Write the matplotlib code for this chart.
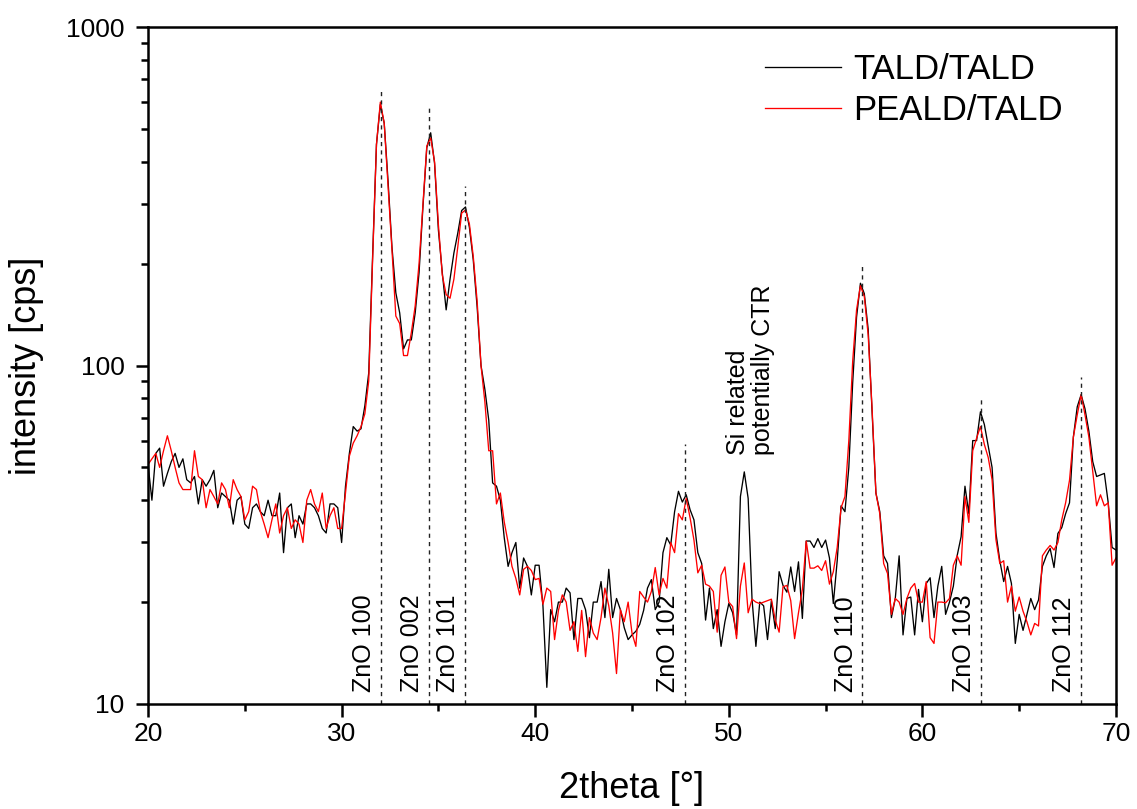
import numpy as np
import matplotlib
matplotlib.use("Agg")
import matplotlib.pyplot as plt
from matplotlib.ticker import LogLocator, FixedLocator, NullFormatter

plt.rcParams['font.family'] = ['Liberation Sans', 'DejaVu Sans']

# 2theta grid, 0.2 deg steps
two_theta = np.round(np.arange(20.0, 70.01, 0.2), 1)

tald = [
    51, 40, 55, 57, 44, 48, 52, 55, 50, 53,
    46, 45, 47, 39, 46, 44, 46, 49, 38, 42,
    41, 40, 34, 40, 41, 34, 33, 38, 39, 37,
    36, 40, 36, 36, 42, 28, 38, 39, 31, 36,
    34, 39, 39, 38, 36, 33, 32, 39, 39, 38,
    30,
    44, 55, 66, 64, 65, 76, 95, 210, 450, 590,
    520, 350, 224, 164, 143, 112, 119, 119, 143, 188,
    294, 440, 487, 396, 251, 188, 146, 180, 215, 246,
    287, 294, 256, 205, 149, 100, 85, 69, 45, 44,
    40, 31, 25.5, 28, 30, 22, 27, 25.5, 21, 25.7,
    25.7, 19.5, 11.2, 19, 17.5, 20, 20, 22, 21.3, 15.5,
    20.5, 20.5, 19, 15.7, 20, 20, 23, 18, 25, 18,
    20.5, 19, 16.8, 15.5, 16, 16.4, 17.2, 18.9, 22, 23.3,
    19, 20, 28, 31, 29.5, 37, 42.5, 39.5, 41.5, 37.5,
    35, 28, 26, 17.7, 22, 16.7, 19, 14.8, 17.5, 19.8,
    18.6, 16, 41, 48.5, 40.5, 20.4, 14.8, 20, 19.5, 15.5,
    20.2, 16.7, 24.6, 22.4, 21.4, 25.4, 21.5, 26.3, 17.9, 30.3,
    30.3, 29, 30.8, 29, 30.5, 27, 19.8, 26.5, 38.5, 37,
    50, 89, 139, 175, 163, 128, 73, 42, 37, 27.4,
    26, 18, 20.5, 27.4, 16, 20.5, 20.7, 16, 21.8, 17.5,
    22.7, 23.6, 18, 22.3, 25.5, 18.4, 20, 22.3, 27.5, 31.2,
    44, 36.5, 60, 60, 73, 67, 58, 50, 32, 26.5,
    23, 25.5, 22.7, 15.1, 18.4, 16.5, 18.4, 20.5, 19, 20.3,
    25.5, 27.4, 28.8, 25.3, 31.9, 33.2, 36.5, 39.3, 61.5, 75.5,
    82, 74.5, 64, 52, 47, 47.5, 48, 39.3, 29, 28.5,
]

peald = [
    51, 53, 55, 50, 56, 62, 56, 50, 45, 43,
    43, 43, 56, 47, 46, 38, 43, 41, 39, 45,
    43, 38, 46, 43, 41, 35, 37, 44, 43, 37,
    34, 31, 35, 39, 32, 36, 38, 33, 35, 34,
    30, 40, 43, 39, 37, 42, 33, 36, 38, 33,
    33,
    42, 54, 59, 62, 66, 72, 90, 205, 450, 600,
    520, 340, 220, 140, 133, 107, 107, 125, 150, 200,
    300, 445, 470, 400, 260, 185, 162, 158, 180, 224,
    282, 288, 262, 210, 155, 100, 78, 56, 56, 39,
    42, 34.5, 30, 25.5, 23.5, 21, 25, 25.5, 24.8, 23.3,
    23.5, 19.7, 22, 21.5, 15.5, 18.9, 21, 20, 16.5, 17.5,
    14.3, 18.9, 13.8, 18, 16.2, 15.5, 18, 22, 19.5, 16.2,
    12.3, 19, 17.5, 20, 16.2, 14.8, 21.5, 20.7, 20, 21.5,
    25.3, 21, 23.5, 22, 30, 28, 36.5, 35, 40.5, 35.5,
    30.5, 24.4, 25.7, 22.6, 22.3, 21.5, 16.3, 24, 25.4, 20,
    19.4, 15.6, 22.3, 26.1, 18.6, 20.4, 20, 19.8, 20, 20.2,
    20.4, 17.7, 16.3, 22.2, 22.4, 20.2, 15.6, 18.6, 21.8, 30.3,
    25.2, 25.2, 25.6, 24.8, 26.5, 22.6, 24.6, 29, 38, 41,
    60, 103, 146, 172, 160, 123, 75, 42, 36.5, 26,
    24.3, 18.4, 20.5, 20, 18.4, 20.5, 22, 22.7, 20, 20,
    23, 15.7, 15.1, 20, 20, 19.9, 20.5, 25.7, 27.4, 25.7,
    41, 34.4, 56, 61, 66, 58.5, 53.5, 46, 30.6, 26,
    26.5, 20, 22.3, 18.8, 20.7, 18.8, 17.5, 16, 17.3, 17,
    27.4, 28.5, 29.4, 28.5, 30, 35, 39.3, 45.8, 61.5, 71.5,
    82, 71.5, 61.5, 48.5, 38.5, 41.5, 38.5, 39.3, 25.7, 27,
]

# ZnO reflections (position, top of the marker line)
refl_labels = ['ZnO 100', 'ZnO 002', 'ZnO 101', 'ZnO 102', 'ZnO 110', 'ZnO 103', 'ZnO 112']
refl_pos = [32.05, 34.5, 36.35, 47.72, 56.9, 63.02, 68.2]
refl_top = [650, 575, 340, 58.5, 200, 79.5, 92.5]

fig = plt.figure(figsize=(11.37, 8.09), dpi=100)
ax = fig.add_axes([0.1302, 0.1298, 0.8513, 0.8368])

ax.plot(two_theta, tald, color='black', lw=0.95, label='TALD/TALD')
ax.plot(two_theta, peald, color='#ff0000', lw=0.95, label='PEALD/TALD')

ax.vlines(refl_pos, 10, refl_top, colors='#222222', linestyles=(0, (3, 3)), lw=1.0)
trans = ax.get_xaxis_transform()
for name, pos in zip(refl_labels, refl_pos):
    ax.text(pos - 0.25, 0.018, name, transform=trans, rotation=90,
            ha='right', va='bottom', fontsize=18)

ax.text(51.1, 54.5, 'Si related\npotentially CTR', rotation=90,
        ha='center', va='bottom', multialignment='left', fontsize=18,
        linespacing=1.05)

ax.set_yscale('log')
ax.set_xlim(20, 70)
ax.set_ylim(10, 1000)
ax.xaxis.set_major_locator(FixedLocator([20, 30, 40, 50, 60, 70]))
ax.xaxis.set_minor_locator(FixedLocator([25, 35, 45, 55, 65]))
ax.yaxis.set_major_locator(FixedLocator([10, 100, 1000]))
ax.yaxis.set_major_formatter(plt.FuncFormatter(lambda v, p: f'{int(v)}'))
ax.yaxis.set_minor_locator(LogLocator(base=10, subs=np.arange(2, 10)))
ax.yaxis.set_minor_formatter(NullFormatter())

for s in ax.spines.values():
    s.set_linewidth(1.8)
ax.tick_params(axis='both', which='major', direction='out', length=9, width=1.8)
ax.tick_params(axis='both', which='minor', direction='out', length=5, width=1.8)
ax.tick_params(axis='x', labelsize=19, pad=4)
ax.tick_params(axis='y', labelsize=19, pad=8)

ax.set_xlabel('2theta [°]', fontsize=26, labelpad=18)
ax.set_ylabel('intensity [cps]', fontsize=26, labelpad=16)

ax.legend(loc='upper left', bbox_to_anchor=(0.637, 0.962), frameon=False,
          fontsize=25, handlelength=2.2, handletextpad=0.35, labelspacing=0.25,
          borderpad=0, borderaxespad=0)

fig.savefig('out.png', dpi=100)
